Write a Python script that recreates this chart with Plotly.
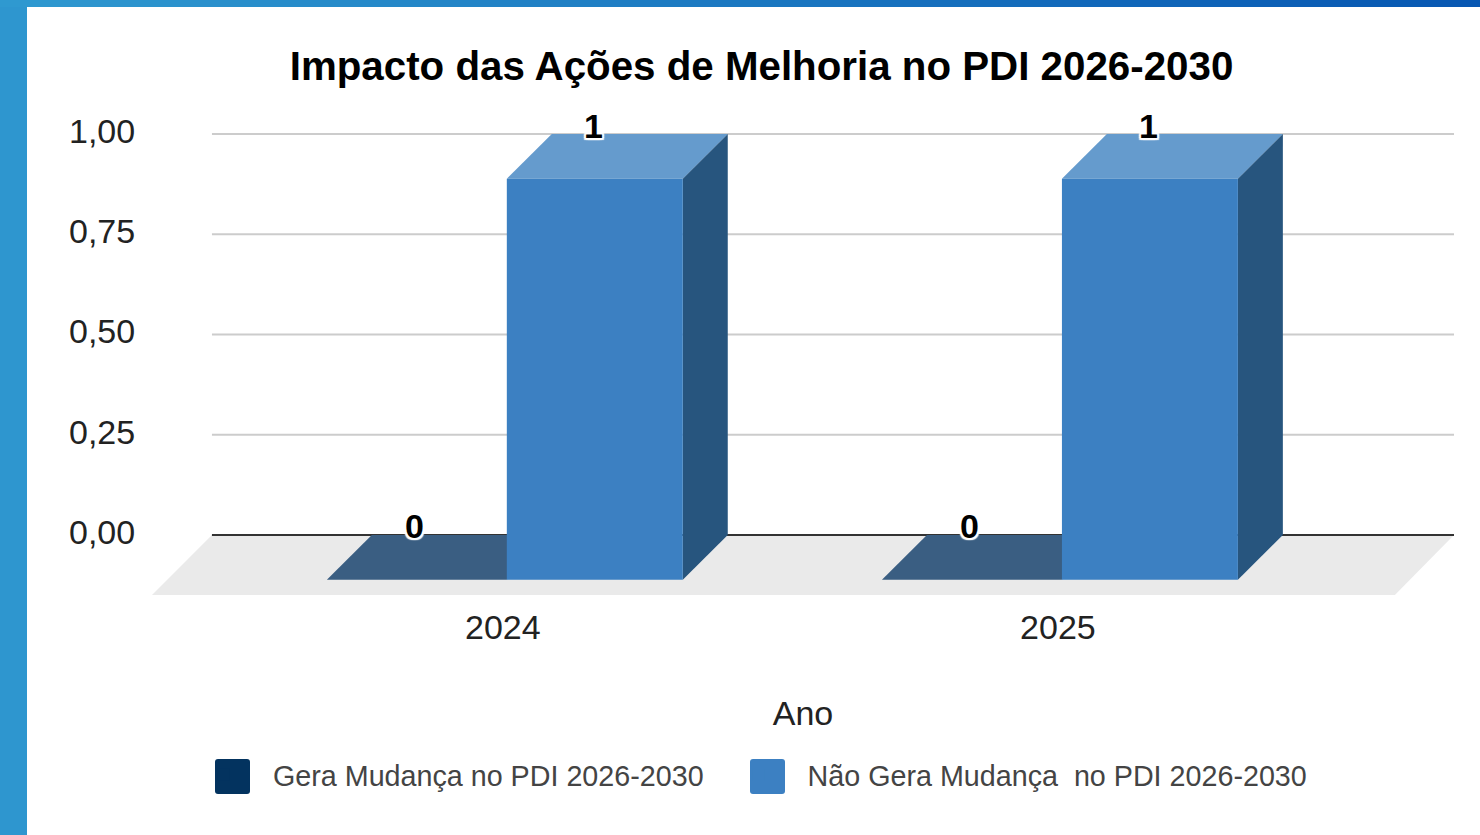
import plotly.graph_objects as go

# ---- data ----
years = [2024, 2025]
gera_mudanca = [0, 0]
nao_gera_mudanca = [1, 1]
series_names = ["Gera Mudança no PDI 2026-2030", "Não Gera Mudança  no PDI 2026-2030"]
y_ticks = [0, 0.25, 0.5, 0.75, 1]
y_tick_labels = ["0,00", "0,25", "0,50", "0,75", "1,00"]
title_text = "Impacto das Ações de Melhoria no PDI 2026-2030"
x_title = "Ano"

# ---- page geometry ----
W, H = 1480, 835
PL, PR, PT, PB = 152, 1454, 125, 595
FONT = "Liberation Sans, Arial, sans-serif"

# ---- 3D projection, in axis units ----
DEPTH_X = 0.081       # shift of the front plane along x
DEPTH_Y = 0.1115      # shift of the front plane along y
FLOOR_Y = 0.1496
Y_TOP = 1.0224
X_MIN, X_MAX = 2023.368, 2025.7135
WALL_LEFT = 2023.476
FLOOR_RIGHT = 2025.607
BAR_W = 0.317
DARK_OFF = -0.317
LIGHT_OFF = 0.0072
LABEL_LIFT = 0.0075   # tick labels sit slightly above their gridlines

DARK_FRONT, DARK_TOP = "#03335F", "#3A5E82"
LIGHT_FRONT, LIGHT_TOP, LIGHT_SIDE = "#3C80C2", "#659BCD", "#27557E"


def px(x):
    return (x - PL) / (PR - PL)


def py(y):
    return (PB - y) / (PB - PT)


def poly(points, color):
    d = "M" + " L".join(f"{x},{y}" for x, y in points) + " Z"
    return dict(type="path", path=d, xref="x", yref="y", fillcolor=color,
                line=dict(width=0), layer="below")


def swatch(left, top, size, r, color):
    a, b, c, d = px(left), px(left + size), py(top), py(top + size)
    rx, ry = r / (PR - PL), r / (PB - PT)
    path = (f"M{a + rx},{c} L{b - rx},{c} Q{b},{c} {b},{c - ry} L{b},{d + ry} Q{b},{d} {b - rx},{d} "
            f"L{a + rx},{d} Q{a},{d} {a},{d + ry} L{a},{c - ry} Q{a},{c} {a + rx},{c} Z")
    return dict(type="path", path=path, xref="paper", yref="paper", fillcolor=color,
                line=dict(width=0), layer="above")


shapes = []
# floor
shapes.append(poly([(WALL_LEFT, 0), (X_MAX, 0),
                    (FLOOR_RIGHT, -FLOOR_Y), (X_MIN, -FLOOR_Y)], "#EAEAEA"))
# gridlines
for t in y_ticks:
    shapes.append(dict(type="line", xref="x", yref="y", x0=WALL_LEFT, x1=X_MAX, y0=t, y1=t,
                       line=dict(color="#333333" if t == 0 else "#CCCCCC", width=2),
                       layer="below"))
# top and side faces
for yr, v0, v1 in zip(years, gera_mudanca, nao_gera_mudanca):
    x0, x1 = yr + DARK_OFF, yr + DARK_OFF + BAR_W + 0.007
    shapes.append(poly([(x0, v0 - DEPTH_Y), (x1, v0 - DEPTH_Y),
                        (x1 + DEPTH_X, v0), (x0 + DEPTH_X, v0)], DARK_TOP))
    x0, x1 = yr + LIGHT_OFF, yr + LIGHT_OFF + BAR_W
    shapes.append(poly([(x0, v1 - DEPTH_Y), (x1, v1 - DEPTH_Y),
                        (x1 + DEPTH_X, v1), (x0 + DEPTH_X, v1)], LIGHT_TOP))
    shapes.append(poly([(x1, -DEPTH_Y), (x1 + DEPTH_X, 0),
                        (x1 + DEPTH_X, v1), (x1, v1 - DEPTH_Y)], LIGHT_SIDE))

# page bands
shapes.append(dict(type="rect", xref="paper", yref="paper", x0=px(0), x1=px(27),
                   y0=py(H), y1=py(0), fillcolor="#2E96CF", line=dict(width=0), layer="above"))
N = 74
c0, c1 = (0x2F, 0x99, 0xD0), (0x07, 0x57, 0xB2)
for i in range(N):
    t = i / (N - 1)
    col = "rgb(%d,%d,%d)" % tuple(round(a + (b - a) * t) for a, b in zip(c0, c1))
    shapes.append(dict(type="rect", xref="paper", yref="paper",
                       x0=px(W * i / N), x1=px(W * (i + 1) / N + 1),
                       y0=py(7), y1=py(0), fillcolor=col, line=dict(width=0), layer="above"))
# large legend swatches
shapes.append(swatch(215, 759, 35, 3, DARK_FRONT))
shapes.append(swatch(750, 759, 35, 3, LIGHT_FRONT))

fig = go.Figure()
fig.add_bar(x=years, y=gera_mudanca, base=-DEPTH_Y, offset=DARK_OFF, width=BAR_W + 0.007,
            name=series_names[0], marker=dict(color=DARK_FRONT, line=dict(width=0)))
fig.add_bar(x=years, y=nao_gera_mudanca, base=-DEPTH_Y, offset=LIGHT_OFF, width=BAR_W,
            name=series_names[1], marker=dict(color=LIGHT_FRONT, line=dict(width=0)))

halo = ",".join(f"{a}px {b}px 1px #fff" for a in (-2, 0, 2) for b in (-2, 0, 2))
annotations = []
for yr, v0, v1 in zip(years, gera_mudanca, nao_gera_mudanca):
    for x, v, lift in ((yr - 0.16, v0, 9), (yr + 0.164, v1, 8)):
        annotations.append(dict(x=x, y=v, xref="x", yref="y", text=str(v), showarrow=False,
                                yshift=lift, xanchor="center", yanchor="middle",
                                font=dict(family=FONT, size=34, color="#000000", weight="bold",
                                          shadow=halo)))

fig.update_layout(
    width=W, height=H, autosize=False,
    margin=dict(l=PL, r=W - PR, t=PT, b=H - PB, pad=0),
    paper_bgcolor="white", plot_bgcolor="rgba(0,0,0,0)",
    barmode="overlay",
    title=dict(text=title_text, xref="container", yref="container",
               x=761.5 / W, xanchor="center", y=1 - 66 / H, yanchor="middle",
               font=dict(family=FONT, size=40.3, color="#000000", weight="bold")),
    xaxis=dict(range=[X_MIN, X_MAX], tickmode="array", tickvals=years,
               ticktext=[str(y) for y in years], showgrid=False, zeroline=False, showline=False,
               ticks="outside", ticklen=2, tickcolor="rgba(0,0,0,0)",
               tickfont=dict(family=FONT, size=34, color="#222222"),
               title=dict(text=x_title, standoff=56, font=dict(family=FONT, size=34, color="#222222"))),
    yaxis=dict(range=[-FLOOR_Y, Y_TOP], tickmode="array",
               tickvals=[t + LABEL_LIFT for t in y_ticks], ticktext=y_tick_labels,
               showgrid=False, zeroline=False, showline=False,
               ticks="outside", ticklen=9, tickcolor="rgba(0,0,0,0)",
               tickfont=dict(family=FONT, size=34, color="#222222")),
    showlegend=True,
    legend=dict(orientation="h", x=px(174), xanchor="left", y=py(775), yanchor="middle",
                itemwidth=89, bgcolor="rgba(0,0,0,0)",
                itemclick=False, itemdoubleclick=False,
                font=dict(family=FONT, size=28.7, color="#444444")),
    shapes=shapes, annotations=annotations,
)

fig.write_html("out.html", config={"displayModeBar": False},
               post_script="document.body.style.margin='0';")
